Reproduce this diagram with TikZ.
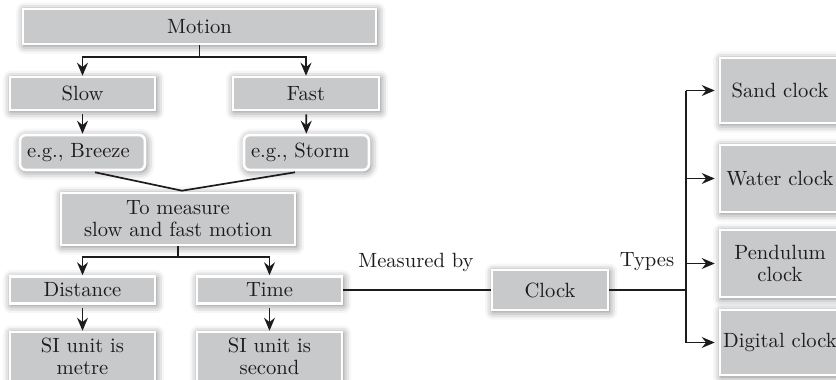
\documentclass[tikz,border=0pt]{standalone}
\usetikzlibrary{arrows.meta,shadows.blur,calc}
\definecolor{boxgray}{RGB}{200,201,203}
\definecolor{ink}{RGB}{30,27,28}
\begin{document}
\begin{tikzpicture}[x=0.5pt,y=-0.5pt,
  font=\fontsize{10.3}{11}\selectfont,
  cbox/.style={fill=boxgray, draw=white, line width=1.3pt, text=ink, align=center,
    inner sep=0pt,
    blur shadow={shadow xshift=0.6pt, shadow yshift=-0.8pt,
      shadow blur radius=4pt, shadow opacity=55}},
  rbox/.style={cbox, rounded corners=3pt, align=left, inner xsep=3.5pt,
    text width=55.5pt, minimum height=17.5pt},
  link/.style={draw=ink, line width=0.85pt},
  arr/.style={link, -{Stealth[length=6.5pt,width=5.5pt,inset=2.2pt]}},
  lbl/.style={text=ink, inner sep=0pt, align=center}]
\useasboundingbox (0,0) rectangle (836,380);

% top: motion and its two kinds
\node[cbox, minimum width=176.5pt, minimum height=17.5pt] (motion) at (199.5,26.5) {Motion};
\node[cbox, minimum width=72.5pt, minimum height=16.5pt] (slow) at (82.5,93.5) {Slow};
\node[cbox, minimum width=73pt, minimum height=16.5pt] (fast) at (306,93.5) {Fast};
\node[rbox] (breeze) at (82.5,152.5) {e.g., Breeze};
\node[rbox] (storm) at (306.5,152.5) {e.g., Storm};

% measuring
\node[cbox, minimum width=117pt, minimum height=26pt] (measure) at (178,219) {To measure\\slow and fast motion};
\node[cbox, minimum width=72.5pt, minimum height=13.5pt] (distance) at (82.5,290) {Distance};
\node[cbox, minimum width=72.5pt, minimum height=13.5pt] (time) at (269.5,290) {Time};
% unit boxes run past the lower edge; their text sits near the top
\node[cbox, minimum width=72.5pt, minimum height=30pt] (metre) at (82.5,362) {};
\node[cbox, minimum width=72.5pt, minimum height=30pt] (second) at (269.5,362) {};
\node[lbl] (metretext) at (82.5,356) {SI unit is\\metre};
\node[lbl] (secondtext) at (269.5,356) {SI unit is\\second};

% clocks
\node[cbox, minimum width=58pt, minimum height=20pt] (clock) at (550,290) {Clock};
\node[cbox, minimum width=60pt, minimum height=32.5pt] (sand) at (780,90.5) {Sand clock};
\node[cbox, minimum width=60pt, minimum height=33.5pt] (water) at (780,178.5) {Water clock};
\node[cbox, minimum width=60pt, minimum height=33.5pt] (pendulum) at (780,263.5) {Pendulum\\clock};
\node[cbox, minimum width=60pt, minimum height=32.5pt] (digital) at (780,342.5) {Digital clock};

\node[lbl] (mby) at (416,262) {Measured by};
\node[lbl] (types) at (647,262) {Types};

% connectors
\coordinate (mfork) at ($(motion.south)+(0,12)$);
\draw[link] (motion.south) -- (mfork);
\draw[arr] (mfork) -| (slow.north);
\draw[arr] (mfork) -| (fast.north);
\draw[arr, shorten <=1.5pt] (slow) -- (breeze);
\draw[arr, shorten <=1.5pt] (fast) -- (storm);

\coordinate (apex) at ($(measure.north)+(4,-1)$);
\draw[link] ($(breeze.south)+(12.5,1)$) -- (apex) -- ($(storm.south)+(-11.5,1)$);

\coordinate (dfork) at ($(measure.south)+(0,11)$);
\draw[link] (measure.south) -- (dfork);
\draw[arr] (dfork) -| (distance.north);
\draw[arr] (dfork) -| (time.north);
\draw[arr, shorten <=1.5pt] (distance) -- (metre);
\draw[arr, shorten <=1.5pt] (time) -- (second);

\draw[link] (time.east) -- (clock.west);

\coordinate (bus) at (686,290);
\draw[link] (clock.east) -- (bus);
\draw[link] (bus |- sand.west) -- (bus |- digital.west);
\foreach \t in {sand,water,pendulum,digital}
  \draw[arr, shorten >=2pt] (bus |- \t.west) -- (\t.west);
\end{tikzpicture}
\end{document}
